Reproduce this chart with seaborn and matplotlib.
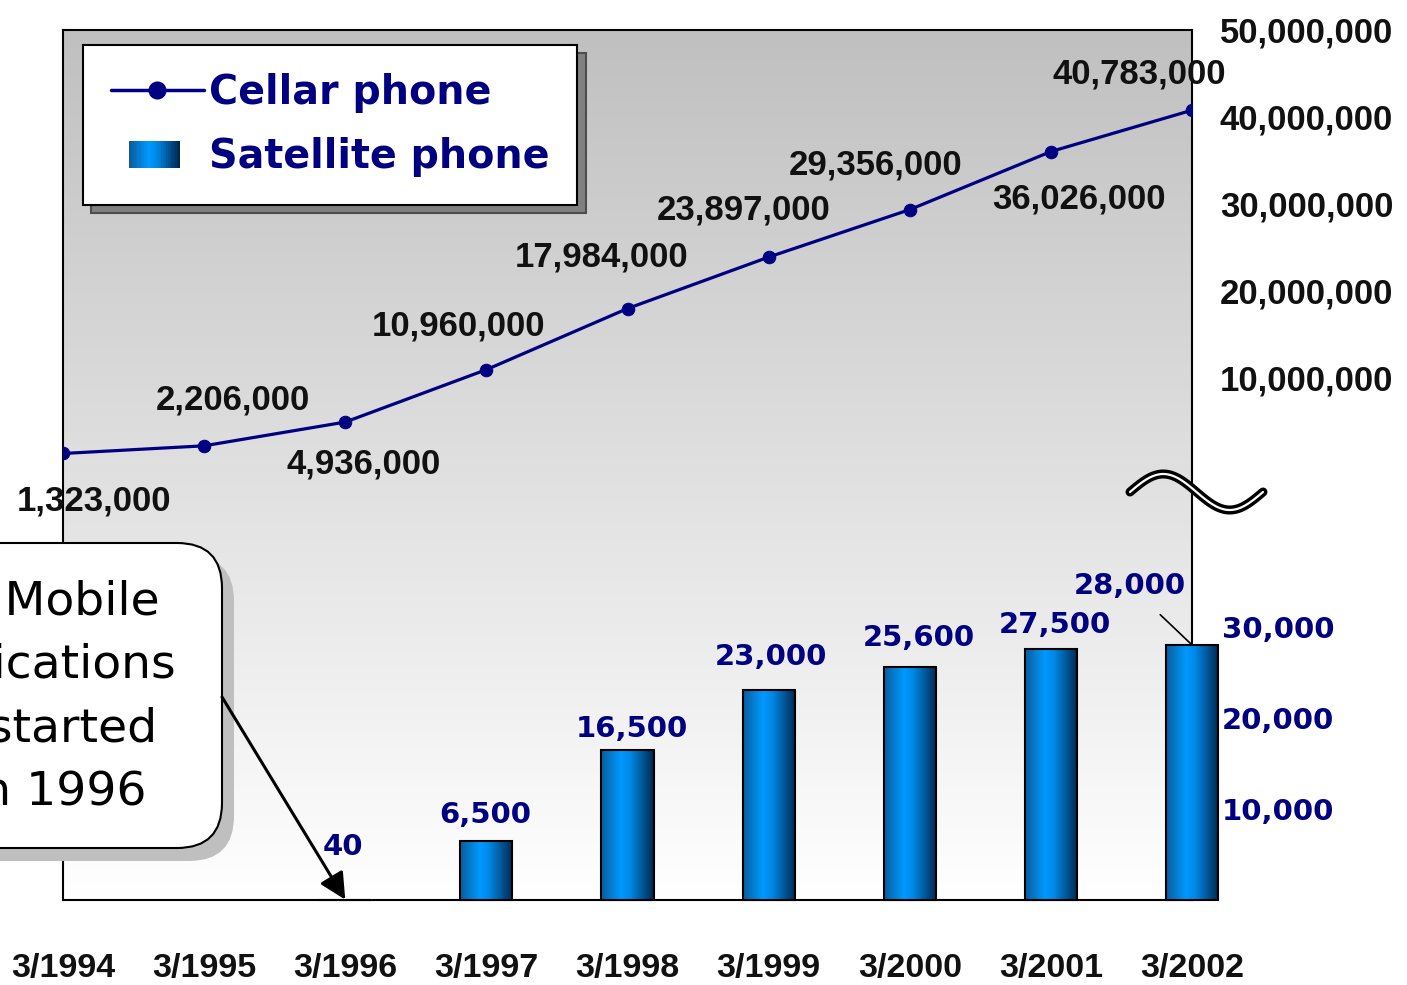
import numpy as np
import pandas as pd
import matplotlib.pyplot as plt
import seaborn as sns
from matplotlib.legend_handler import HandlerBase
from matplotlib.lines import Line2D
from matplotlib.patches import Rectangle, Patch, FancyBboxPatch
from matplotlib.colors import LinearSegmentedColormap

# data
years = ['3/1994', '3/1995', '3/1996', '3/1997', '3/1998', '3/1999', '3/2000', '3/2001', '3/2002']
cellular = [1323000, 2206000, 4936000, 10960000, 17984000, 23897000, 29356000, 36026000, 40783000]
sat_years = ['3/1996', '3/1997', '3/1998', '3/1999', '3/2000', '3/2001', '3/2002']
satellite = [40, 6500, 16500, 23000, 25600, 27500, 28000]
cell_ticks = [10000000, 20000000, 30000000, 40000000, 50000000]
sat_ticks = [10000, 20000, 30000]
callout = 'Satellite Mobile\nCommunications\nService started\nin March 1996'

# label offsets (pixels) from each point / bar top
cell_off = [(31, -48), (29, 46), (18, -42), (-28, 44), (-26, 52), (-25, 47), (-34, 45), (28, -47), (-53, 36)]
sat_off = [(-2, 53), (-1, 26), (4, 21), (2, 33), (9, 29), (4, 24), (-62, 59)]

sns.set_style('white')
NUM = ['Liberation Sans', 'DejaVu Sans']
NAVY = '#000080'

fig = plt.figure(figsize=(14.07, 9.85), dpi=100)
ax = fig.add_axes([63 / 1407, 85 / 985, 1129 / 1407, 870 / 985])
ax2 = ax.twinx()

sat_max = 95500
cell_lim = 50000000

# background gradient grey -> white
bg = LinearSegmentedColormap.from_list('bg', ['#c0c0c0', '#ffffff'])
ax.imshow(np.linspace(0, 1, 256).reshape(-1, 1), cmap=bg, extent=(0, 8, 0, sat_max),
          aspect='auto', origin='upper', zorder=0)

# satellite bars
df_sat = pd.DataFrame({'year': sat_years, 'users': satellite})
sns.barplot(data=df_sat, x='year', y='users', order=years, width=0.37, ax=ax,
            color='#0090f0', edgecolor='black', linewidth=1.5)
bar_cmap = LinearSegmentedColormap.from_list(
    'bar', [(0, '#0a5d9c'), (0.38, '#0099ff'), (0.55, '#0088e6'), (1, '#00284f')])
grad = np.linspace(0, 1, 256).reshape(1, -1)
bars = [p for p in ax.patches if np.isfinite(p.get_height()) and p.get_height() > 0]
for p in bars:
    x0, y0, w, h = p.get_x(), p.get_y(), p.get_width(), p.get_height()
    ax.imshow(grad, cmap=bar_cmap, extent=(x0, x0 + w, y0, y0 + h), aspect='auto',
              zorder=3, clip_on=False)
    p.set_facecolor('none')
    p.set_zorder(4)
    p.set_clip_on(False)

ax.set_xlim(0, 8)
ax.set_ylim(0, sat_max)

# bar labels
bar_x = [years.index(y) for y in sat_years]
for xi, v, (dx, dy) in zip(bar_x, satellite, sat_off):
    ap = None
    if v == satellite[-1]:
        ap = dict(arrowstyle='-', color='black', lw=1.2, shrinkA=12, shrinkB=0)
    ax.annotate(f'{v:,}', xy=(xi, v), xytext=(dx, dy), textcoords='offset pixels',
                ha='center', va='center', color=NAVY, fontsize=21, fontweight='bold',
                family='DejaVu Sans', arrowprops=ap, zorder=6, annotation_clip=False)

# cellular line
sns.lineplot(x=np.arange(len(years)), y=cellular, ax=ax2, color=NAVY, linewidth=2.3,
             marker='o', markersize=9, markeredgecolor=NAVY)
ax2.set_ylim(-cell_lim, cell_lim)
for xi, v, (dx, dy) in zip(range(len(years)), cellular, cell_off):
    ax2.annotate(f'{v:,}', xy=(xi, v), xytext=(dx, dy), textcoords='offset pixels',
                 ha='center', va='center', color='#111111', fontsize=25,
                 fontweight='bold', family=NUM, annotation_clip=False)

# axes styling
ax.yaxis.tick_right()
ax.set_yticks(sat_ticks)
ax.set_yticklabels([f'{t:,}' for t in sat_ticks])
ax.tick_params(axis='y', length=0, pad=21.5, labelsize=21, labelcolor=NAVY)
for t in ax.get_yticklabels():
    t.set_family('DejaVu Sans')
    t.set_fontweight('bold')
ax2.set_yticks(cell_ticks)
ax2.set_yticklabels([f'{t:,}' for t in cell_ticks])
ax2.tick_params(axis='y', length=0, pad=20, labelsize=25, labelcolor='#111111')
for t in ax2.get_yticklabels():
    t.set_family(NUM)
    t.set_fontweight('bold')
ax.set_xticks(range(len(years)))
ax.set_xticklabels(years)
ax.tick_params(axis='x', length=0, pad=38, labelsize=24.5, labelcolor='#111111')
for t in ax.get_xticklabels():
    t.set_family(NUM)
    t.set_fontweight('bold')
ax.set_xlabel('')
ax.set_ylabel('')
ax2.set_xlabel('')
ax2.set_ylabel('')
for s in ax.spines.values():
    s.set_color('black')
    s.set_linewidth(1.5)
    s.set_zorder(2)
for s in ax2.spines.values():
    s.set_visible(False)


# legend with gradient patch
class GradHandler(HandlerBase):
    def create_artists(self, legend, orig, xd, yd, width, height, fontsize, trans):
        n = 30
        w = width * 0.55
        x0 = -xd + (width - w) / 2 - width * 0.03
        cols = bar_cmap(np.linspace(0, 1, n))
        arts = []
        for i in range(n):
            r = Rectangle((x0 + i * w / n, -yd), w / n * 1.05, height, facecolor=cols[i],
                          edgecolor='none', transform=trans)
            arts.append(r)
        return arts


h_line = Line2D([], [], color=NAVY, lw=2.5, marker='o', markersize=12)
h_bar = Patch(label='Satellite phone')
leg = ax2.legend([h_line, h_bar], ['Cellar phone', 'Satellite phone'],
                 handler_map={Patch: GradHandler()}, loc='upper left',
                 bbox_to_anchor=(20 / 1129, 1 - 15 / 870), borderaxespad=0,
                 prop={'family': 'DejaVu Sans', 'weight': 'bold', 'size': 28.5},
                 labelcolor=NAVY, handlelength=2.35, handletextpad=0.14,
                 borderpad=0.7, labelspacing=0.62, fancybox=False, framealpha=1,
                 edgecolor='black', facecolor='white',
                 shadow={'ox': 6, 'oy': -6, 'facecolor': '#808080', 'alpha': 1})
leg.get_frame().set_linewidth(1.5)
leg.set_zorder(8)

# axis break mark
xs = np.linspace(1130, 1263, 100)
ys = 492 - 18 * np.sin((xs - 1130) / 133 * 2 * np.pi)
for lw, c in [(6.5, 'black'), (1.6, 'white')]:
    fig.add_artist(Line2D(xs / 1407, 1 - ys / 985, transform=fig.transFigure,
                          color=c, lw=lw, solid_capstyle='round', zorder=5))

# callout box (drawn in figure inches, on the bar axes so the arrow sits on top)
inch = fig.dpi_scale_trans
box_sh = FancyBboxPatch((-0.6 + 0.12, 1.37 - 0.13), 2.82, 3.05,
                        boxstyle='round,pad=0,rounding_size=0.45', transform=inch,
                        facecolor='#bfbfbf', edgecolor='none', zorder=10, clip_on=False)
box = FancyBboxPatch((-0.6, 1.37), 2.82, 3.05, boxstyle='round,pad=0,rounding_size=0.45',
                     transform=inch, facecolor='white', edgecolor='black', lw=1.5,
                     zorder=11, clip_on=False)
ax.add_patch(box_sh)
ax.add_patch(box)
ax.text(-0.22, 2.88, callout, transform=inch, ha='center', va='center',
        multialignment='center', fontsize=34, family='DejaVu Sans', color='black',
        linespacing=1.52, zorder=12, clip_on=False)
ax.annotate('', xy=(2, 40), xycoords='data', xytext=(2.22, 2.88), textcoords=inch,
            arrowprops=dict(arrowstyle='-|>', color='black', lw=2.2, mutation_scale=40,
                            shrinkA=0, shrinkB=0),
            annotation_clip=False, zorder=13)

fig.savefig('out.png', dpi=100)
